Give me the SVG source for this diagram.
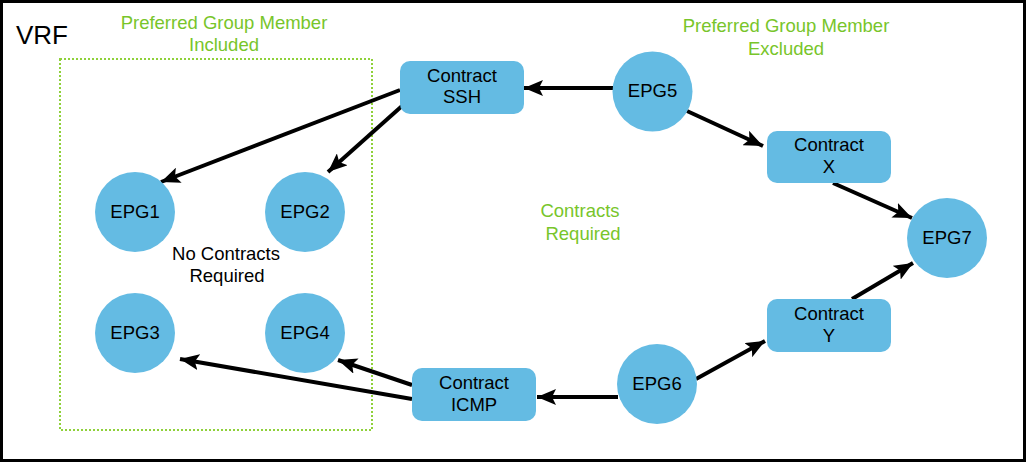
<svg xmlns="http://www.w3.org/2000/svg" width="1027" height="463" viewBox="0 0 1027 463">
<defs>
<style>
.epg{fill:#64bbe3}
.box{fill:#64bbe3}
.t{font-family:"Liberation Sans",Arial,sans-serif;font-size:18.5px;fill:#000;text-anchor:middle}
.g{font-family:"Liberation Sans",Arial,sans-serif;font-size:18.5px;fill:#78c52a;text-anchor:middle}
.c{stroke:#000;stroke-width:4;fill:none;marker-end:url(#ah)}
</style>
<marker id="ah" markerUnits="userSpaceOnUse" markerWidth="20" markerHeight="16" refX="19" refY="8" orient="auto">
<path d="M0,0 L19,8 L0,16 L4,8 z" fill="#000"/>
</marker>
</defs>
<rect width="1027" height="463" fill="#fff"/>
<rect x="1.5" y="1.5" width="1023" height="459" fill="none" stroke="#000" stroke-width="3"/>
<text x="16" y="44" style="font-family:'Liberation Sans',Arial,sans-serif;font-size:26px">VRF</text>
<rect x="60" y="59" width="312" height="371" fill="none" stroke="#8fd13a" stroke-width="2" stroke-dasharray="2,2"/>
<g id="label-included">
<text class="g" x="224" y="29">Preferred Group Member</text>
<text class="g" x="224" y="51">Included</text>
</g>
<g id="label-excluded">
<text class="g" x="786" y="32">Preferred Group Member</text>
<text class="g" x="786" y="55">Excluded</text>
</g>
<g id="label-required">
<text class="g" x="580" y="217">Contracts</text>
<text class="g" x="583" y="240">Required</text>
</g>
<g id="label-nocontracts">
<text class="t" x="226" y="260">No Contracts</text>
<text class="t" x="227" y="282">Required</text>
</g>
<g id="connectors">
<line class="c" x1="400" y1="90" x2="161" y2="182"/>
<line class="c" x1="402" y1="106" x2="328" y2="172"/>
<line class="c" x1="613" y1="88" x2="524" y2="88"/>
<line class="c" x1="687" y1="111" x2="763" y2="146"/>
<line class="c" x1="833" y1="183" x2="912" y2="218"/>
<line class="c" x1="852" y1="299" x2="913" y2="263"/>
<line class="c" x1="696" y1="379" x2="765" y2="341"/>
<line class="c" x1="618" y1="397" x2="537" y2="397"/>
<line class="c" x1="412" y1="385" x2="338" y2="360"/>
<line class="c" x1="412" y1="399" x2="180" y2="359"/>
</g>
<g id="EPG1"><circle class="epg" cx="135" cy="212" r="40"/><text class="t" x="135" y="218">EPG1</text></g>
<g id="EPG2"><circle class="epg" cx="305" cy="212" r="40"/><text class="t" x="305" y="218">EPG2</text></g>
<g id="EPG3"><circle class="epg" cx="135" cy="333" r="40"/><text class="t" x="135" y="339">EPG3</text></g>
<g id="EPG4"><circle class="epg" cx="305" cy="333" r="40"/><text class="t" x="305" y="339">EPG4</text></g>
<g id="EPG5"><circle class="epg" cx="652.5" cy="91.5" r="40"/><text class="t" x="652.5" y="97">EPG5</text></g>
<g id="EPG6"><circle class="epg" cx="657" cy="384" r="40"/><text class="t" x="657" y="390">EPG6</text></g>
<g id="EPG7"><circle class="epg" cx="947" cy="238" r="40"/><text class="t" x="947" y="244">EPG7</text></g>
<g id="ContractSSH"><rect class="box" x="400" y="61" width="124" height="53" rx="10"/><text class="t" x="462" y="82">Contract</text><text class="t" x="462" y="103">SSH</text></g>
<g id="ContractX"><rect class="box" x="767" y="131" width="124" height="52" rx="10"/><text class="t" x="829" y="151">Contract</text><text class="t" x="829" y="173">X</text></g>
<g id="ContractY"><rect class="box" x="767" y="299" width="124" height="53" rx="10"/><text class="t" x="829" y="320">Contract</text><text class="t" x="829" y="342">Y</text></g>
<g id="ContractICMP"><rect class="box" x="412" y="368" width="124" height="53" rx="10"/><text class="t" x="474" y="389">Contract</text><text class="t" x="474" y="411">ICMP</text></g>
</svg>
